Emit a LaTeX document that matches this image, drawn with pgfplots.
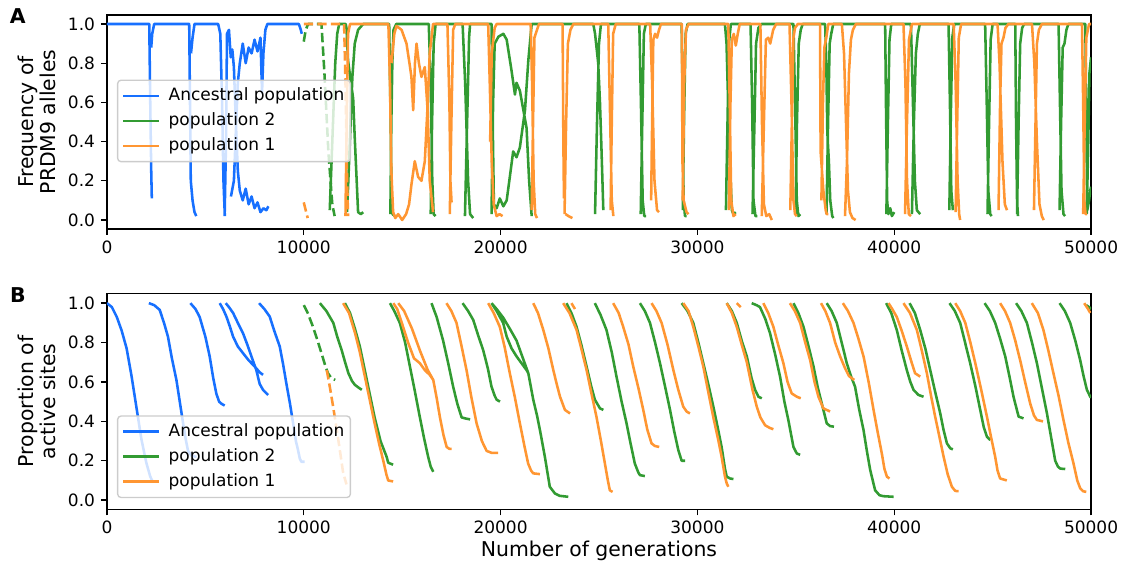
\documentclass[border=0pt]{standalone}
\usepackage{fontspec}
\setmainfont{DejaVu Sans}
\usepackage{pgfplots}
\pgfplotsset{compat=1.18}
\definecolor{cblue}{RGB}{23,112,255}
\definecolor{cgreen}{RGB}{50,155,50}
\definecolor{corange}{RGB}{255,150,50}
\pgfplotsset{
  panel/.style={
    scale only axis, width=578.8pt,
    xmin=0, xmax=50000,
    xtick={0,10000,20000,30000,40000,50000},
    ytick={0,0.2,0.4,0.6,0.8,1},
    tickpos=left, tick align=outside, major tick length=3.5pt,
    every tick/.style={black, line width=0.8pt},
    axis line style={line width=0.8pt},
    ticklabel style={font=\fontsize{10}{12}\selectfont},
    /pgf/number format/assume math mode=true,
    scaled x ticks=false,
    xticklabel style={/pgf/number format/1000 sep={}},
    yticklabel style={/pgf/number format/.cd, fixed, fixed zerofill, precision=1},
    unbounded coords=jump,
    every axis plot/.append style={line width=1.5pt, no markers, line join=round},
    legend image code/.code={\draw[#1, line width=1.5pt] (0pt,0pt) -- (21pt,0pt);},
    legend style={draw=black!20, line width=0.8pt, rounded corners=2pt, fill=white, fill opacity=0.8, text opacity=1, draw opacity=1,
      font=\fontsize{10}{12}\selectfont, inner xsep=2.5pt, inner ysep=3.4pt, row sep=3pt, column sep=4pt,
      nodes={inner sep=1pt, text height=7.5pt, text depth=2.2pt}},
    legend cell align=left,
    ylabel style={font=\fontsize{12}{13.5}\selectfont, align=center, at={(axis description cs:-0.0712,0.5)}, anchor=center},
  },
  dashedline/.style={dash pattern=on 5.55pt off 2.4pt},
}
\begin{document}
\begin{tikzpicture}
\path[use as bounding box] (-62.9pt,8.8pt) rectangle (597.6pt,-324.1pt);
% ---------------- Panel A ----------------
\begin{axis}[panel, at={(0pt,0pt)}, anchor=north west, height=125.9pt,
  ymin=-0.046, ymax=1.046,
  ylabel={Frequency of\\PRDM9 alleles},
  legend style={at={(axis description cs:0.0102,0.505)}, anchor=west}]
\addlegendimage{cblue}\addlegendentry{Ancestral population}
\addlegendimage{cgreen}\addlegendentry{population 2}
\addlegendimage{corange}\addlegendentry{population 1}
% ancestral
\addplot[cblue, forget plot] coordinates {
(0,1) (2150,1) (2200,0.6) (2250,0.25) (2280,0.11) (0,nan)
(2250,0.88) (2300,0.95) (2400,1) (4180,1) (4220,0.6) (4260,0.2) (4350,0.1) (4450,0.04) (4540,0.02) (0,nan)
(4270,0.85) (4350,0.93) (4450,1) (5650,1) (5760,0.95) (5850,0.6) (5920,0.2) (5990,0.02) (0,nan)
(5980,0.02) (6050,0.4) (6100,0.95) (6200,0.97) (6290,0.83) (6370,0.87) (6450,0.78) (6550,0.5) (6650,0.25) (6750,0.15) (6900,0.1) (7050,0.16) (7200,0.08) (7350,0.12) (7500,0.06) (7650,0.09) (7800,0.04) (7950,0.06) (8100,0.05) (8200,0.07) (0,nan)
(6300,0.12) (6450,0.2) (6550,0.45) (6650,0.7) (6750,0.8) (6900,0.9) (7050,0.8) (7200,0.88) (7350,0.85) (7500,0.92) (7650,0.86) (7800,0.93) (7880,0.65) (7950,0.85) (8050,0.97) (8150,1) (9750,1) (9850,0.97) (9900,0.95)
};
% population 2 (green)
\addplot[cgreen, dashedline, forget plot] coordinates {
(10000,0.91) (10100,0.97) (10220,1) (10900,1) (11050,0.75) (11250,0.35) (11450,0.08) (11570,0.02)
};
\addplot[cgreen, forget plot] coordinates {
(11320,0.05) (11450,0.4) (11600,0.8) (11700,0.95) (11800,1) (12130,1) (12170,0.98) (12250,0.815) (12370,0.72) (12510,0.62) (12590,0.42) (12680,0.22) (12760,0.04) (12900,0.03) (13020,0.04) (0,nan)
(12200,0.04) (12340,0.39) (12470,0.73) (12590,0.9) (12760,0.97) (13020,1) (14340,1) (14400,0.6) (14460,0.15) (14510,0.03) (14630,0.02) (0,nan)
(14400,0.03) (14450,0.5) (14500,0.8) (14560,0.97) (14700,1) (16350,1) (16450,0.7) (16530,0.2) (16600,0.03) (16700,0.02) (0,nan)
(16450,0.03) (16520,0.5) (16600,0.9) (16700,1) (18070,1) (18200,0.7) (18350,0.2) (18450,0.03) (18610,0.01) (0,nan)
(18190,0.02) (18300,0.5) (18400,0.93) (18450,1) (19540,1) (19600,0.5) (19660,0.08) (19800,0.06) (19960,0.11) (20140,0.07) (20310,0.1) (20470,0.22) (20640,0.35) (20810,0.32) (20980,0.37) (21240,0.56) (21410,0.815) (21580,1) (24710,1) (24800,0.95) (24960,0.8) (25050,0.6) (25130,0.35) (25220,0.05) (0,nan)
(19540,0.03) (19620,0.6) (19700,0.9) (19890,0.935) (20140,0.95) (20310,0.92) (20560,0.76) (20730,0.64) (20810,0.7) (20980,0.66) (21320,0.47) (21450,0.2) (21580,0.02) (0,nan)
(24800,0.03) (24900,0.5) (25000,0.9) (25100,1) (27050,1) (27130,0.6) (27220,0.1) (27300,0.02) (27400,0.02) (0,nan)
(27120,0.03) (27200,0.5) (27280,0.95) (27380,1) (29200,1) (29250,0.6) (29300,0.1) (29370,0.02) (29450,0.02) (0,nan)
(29260,0.05) (29320,0.5) (29400,0.95) (29500,1) (31400,1) (31480,0.9) (31560,0.6) (31650,0.3) (31750,0.05) (31830,0.03) (31950,0.04) (0,nan)
(31450,0.05) (31530,0.5) (31600,0.9) (31700,1) (32700,1) (32780,0.6) (32850,0.1) (32950,0.02) (33050,0.02) (0,nan)
(32800,0.03) (32900,0.5) (32980,0.9) (33100,0.98) (33250,1) (34880,1) (34960,0.6) (35050,0.1) (35130,0.02) (35230,0.03) (0,nan)
(34990,0.03) (35060,0.5) (35150,0.9) (35250,0.97) (35350,1) (36490,1) (36550,0.8) (36600,0.45) (36680,0.3) (36750,0.1) (36850,0.02) (36910,0.01) (0,nan)
(36560,0.03) (36640,0.5) (36720,0.9) (36800,0.95) (36900,1) (39540,1) (39580,0.6) (39640,0.1) (39700,0.03) (39800,0.06) (39880,0.02) (40000,0.04) (0,nan)
(39600,0.03) (39680,0.5) (39760,0.92) (39850,1) (40850,1) (40950,0.6) (41050,0.2) (41150,0.05) (41320,0.03) (0,nan)
(40900,0.03) (41000,0.5) (41100,0.85) (41200,0.95) (41300,1) (42760,1) (42830,0.6) (42900,0.15) (42980,0.05) (0,nan)
(42800,0.05) (42870,0.5) (42950,0.93) (43050,1) (44620,1) (44700,0.6) (44780,0.15) (44880,0.03) (44950,0.02) (0,nan)
(44740,0.03) (44820,0.5) (44900,0.92) (45000,1) (46150,1) (46190,0.5) (46240,0.1) (46290,0.02) (0,nan)
(46240,0.03) (46320,0.5) (46400,0.9) (46500,0.98) (46600,1) (48350,1) (48420,0.6) (48500,0.15) (48600,0.03) (48680,0.02) (0,nan)
(48400,0.05) (48480,0.5) (48560,0.88) (48650,0.9) (48750,0.97) (48850,1) (49710,1) (49760,0.5) (49810,0.05) (49900,0.1) (49960,0.15) (50000,0.17) (0,nan)
(49780,0.03) (49850,0.35) (49920,0.75) (50000,0.83)
};
% population 1 (orange)
\addplot[corange, dashedline, forget plot] coordinates {
(10000,1) (12050,1) (12120,0.7) (12180,0.3) (12250,0.02) (0,nan)
(10000,0.09) (10100,0.05) (10200,0.01)
};
\addplot[corange, forget plot] coordinates {
(12120,0.02) (12180,0.5) (12250,0.95) (12350,1) (14300,1) (14380,0.7) (14450,0.25) (14540,0.04) (14650,0.01) (14800,0.03) (15000,0.0) (15200,0.03) (15350,0.08) (15470,0.18) (15640,0.3) (15810,0.22) (15980,0.2) (16150,0.3) (16300,0.6) (16400,0.85) (16570,1) (17300,1) (17400,0.6) (17450,0.2) (17510,0.09) (0,nan)
(14460,0.8) (14600,0.95) (14710,0.99) (14970,0.97) (15220,0.9) (15400,0.78) (15470,0.73) (15560,0.56) (15650,0.8) (15730,0.9) (15850,0.8) (15980,0.73) (16150,0.78) (16300,0.55) (16400,0.2) (16570,0.04) (0,nan)
(17420,0.03) (17500,0.5) (17590,0.97) (17700,1) (19370,1) (19450,0.7) (19550,0.3) (19650,0.08) (19800,0.02) (19950,0.03) (20100,0.02) (0,nan)
(19470,0.4) (19550,0.85) (19700,0.98) (19800,1) (21530,1) (21600,0.7) (21680,0.2) (21760,0.03) (21850,0.01) (0,nan)
(21580,0.05) (21650,0.5) (21720,0.93) (21850,0.97) (21950,1) (23150,1) (23190,0.4) (23220,0.11) (0,nan)
(23300,0.03) (23450,0.02) (23650,0.01) (0,nan)
(23250,0.03) (23330,0.5) (23420,0.9) (23550,0.97) (23700,1) (25470,1) (25550,0.6) (25650,0.1) (25730,0.02) (0,nan)
(25590,0.05) (25650,0.5) (25720,0.95) (25850,1) (27600,1) (27700,0.7) (27820,0.2) (27950,0.05) (28050,0.04) (0,nan)
(27650,0.1) (27700,0.5) (27760,0.92) (27850,0.95) (27950,0.93) (28050,0.97) (28150,1) (29210,1) (29240,0.3) (29300,0.1) (29450,0.04) (29550,0.03) (0,nan)
(29250,0.1) (29330,0.7) (29420,0.97) (29550,1) (31570,1) (31640,0.6) (31720,0.1) (31830,0.02) (31950,0.03) (0,nan)
(31600,0.05) (31680,0.6) (31750,0.92) (31850,0.95) (31950,0.89) (32050,0.95) (32150,1) (33200,1) (33280,0.5) (33380,0.08) (33500,0.02) (33650,0.03) (33780,0.0) (0,nan)
(33270,0.02) (33380,0.5) (33480,0.92) (33600,0.93) (33700,0.9) (33850,0.97) (34000,1) (34680,1) (34780,0.6) (34880,0.1) (34960,0.03) (35050,0.02) (0,nan)
(34720,0.05) (34800,0.5) (34880,0.93) (34960,0.98) (35100,1) (36230,1) (36260,0.35) (36400,0.15) (36520,0.05) (36570,0.03) (36660,0.03) (0,nan)
(36300,0.1) (36380,0.6) (36450,0.88) (36550,0.93) (36650,1) (37340,1) (37450,0.85) (37550,0.5) (37650,0.15) (37750,0.04) (37880,0.01) (38040,0.0) (0,nan)
(37500,0.02) (37600,0.3) (37700,0.75) (37800,0.92) (37900,0.97) (38050,1) (40470,1) (40570,0.7) (40650,0.2) (40740,0.03) (40850,0.02) (0,nan)
(40550,0.03) (40650,0.5) (40750,0.92) (40900,1) (43020,1) (43120,0.7) (43220,0.2) (43300,0.03) (43350,0.0) (0,nan)
(43120,0.04) (43200,0.5) (43280,0.93) (43400,1) (45250,1) (45350,0.8) (45500,0.3) (45620,0.08) (45730,0.05) (0,nan)
(45300,0.05) (45380,0.6) (45450,0.9) (45550,0.93) (45650,0.98) (45800,1) (47000,1) (47120,0.8) (47250,0.4) (47380,0.08) (47500,0.02) (47600,0.0) (0,nan)
(47100,0.05) (47180,0.5) (47250,0.9) (47350,0.97) (47500,1) (49540,1) (49600,0.6) (49660,0.1) (49720,0.03) (49800,0.03) (0,nan)
(49600,0.03) (49680,0.5) (49760,0.93) (49900,1) (50000,1)
};
\end{axis}
% ---------------- Panel B ----------------
\begin{axis}[panel, at={(0pt,-163.7pt)}, anchor=north west, height=127.1pt,
  ymin=-0.047, ymax=1.05,
  ylabel={Proportion of\\active sites},
  xlabel={Number of generations},
  xlabel style={font=\fontsize{12}{14}\selectfont, at={(axis description cs:0.5,0)}, anchor=center, yshift=-24.5pt},
  legend style={at={(axis description cs:0.0102,0.052)}, anchor=south west}]
\addlegendimage{cblue}\addlegendentry{Ancestral population}
\addlegendimage{cgreen}\addlegendentry{population 2}
\addlegendimage{corange}\addlegendentry{population 1}
\addplot[cblue, forget plot] coordinates {
(0,1) (250,0.98) (500,0.93) (750,0.86) (1000,0.77) (1250,0.63) (1500,0.47) (1750,0.31) (2000,0.19) (2200,0.12) (2340,0.09) (0,nan)
(2130,1) (2400,0.99) (2680,0.966) (2900,0.9) (3100,0.83) (3300,0.72) (3530,0.61) (3700,0.5) (3870,0.39) (4000,0.31) (4120,0.25) (4300,0.225) (4550,0.22) (0,nan)
(4240,1) (4500,0.97) (4710,0.93) (5000,0.83) (5220,0.73) (5400,0.62) (5560,0.54) (5700,0.5) (5810,0.49) (5980,0.48) (0,nan)
(5730,1) (5900,0.97) (6070,0.932) (6250,0.88) (6410,0.83) (6650,0.78) (6915,0.746) (7200,0.71) (7510,0.678) (7750,0.65) (7930,0.636) (0,nan)
(6035,1) (6200,0.98) (6410,0.95) (6650,0.9) (6915,0.847) (7130,0.79) (7340,0.73) (7590,0.66) (7760,0.59) (7930,0.56) (8080,0.545) (8190,0.534) (0,nan)
(7730,1) (8000,0.97) (8270,0.932) (8500,0.86) (8780,0.78) (8950,0.69) (9120,0.59) (9300,0.49) (9460,0.39) (9600,0.3) (9710,0.254) (9800,0.21) (9880,0.195) (10050,0.195)
};
\addplot[cgreen, dashedline, forget plot] coordinates {
(10000,0.99) (10200,0.95) (10470,0.88) (10700,0.81) (10900,0.746) (11100,0.68) (11230,0.644) (11400,0.62) (11600,0.61)
};
\addplot[cgreen, forget plot] coordinates {
(10820,1) (11150,0.96) (11500,0.9) (11700,0.83) (11930,0.76) (12100,0.7) (12270,0.644) (12450,0.605) (12600,0.585) (12800,0.57) (12950,0.56) (0,nan)
(12090,1) (12350,0.95) (12600,0.87) (12850,0.78) (13100,0.66) (13350,0.54) (13600,0.42) (13900,0.3) (14210,0.22) (14290,0.19) (14540,0.18) (0,nan)
(14380,1) (14600,0.96) (14880,0.9) (15150,0.8) (15390,0.68) (15650,0.55) (15900,0.42) (16100,0.32) (16320,0.22) (16450,0.17) (16580,0.144) (0,nan)
(16490,1) (16750,0.93) (17080,0.81) (17350,0.69) (17590,0.576) (17800,0.49) (18020,0.42) (18200,0.415) (18450,0.41) (0,nan)
(18070,1) (18350,0.96) (18610,0.915) (18850,0.84) (19120,0.76) (19350,0.67) (19540,0.576) (19700,0.53) (19800,0.51) (19970,0.5) (0,nan)
(19540,1) (19800,0.97) (20130,0.927) (20470,0.87) (20810,0.81) (21100,0.73) (21410,0.644) (0,nan)
(19540,1) (19800,0.96) (20130,0.9) (20310,0.83) (20560,0.77) (20810,0.73) (21100,0.69) (21320,0.66) (21410,0.644) (21660,0.51) (21850,0.43) (22000,0.356) (22250,0.22) (22500,0.068) (22760,0.034) (23000,0.022) (23440,0.017) (0,nan)
(23350,1) (23600,0.95) (23860,0.88) (24100,0.79) (24370,0.678) (24600,0.58) (24790,0.51) (25050,0.466) (25220,0.458) (0,nan)
(24790,1) (25080,0.94) (25380,0.864) (25650,0.75) (25890,0.627) (26150,0.5) (26400,0.39) (26600,0.29) (26820,0.186) (27000,0.14) (27080,0.127) (27330,0.122) (0,nan)
(27080,1) (27330,0.96) (27590,0.9) (27850,0.8) (28100,0.695) (28350,0.58) (28610,0.458) (28820,0.35) (29030,0.254) (29200,0.2) (29370,0.2) (0,nan)
(29200,1) (29500,0.96) (29790,0.9) (30050,0.8) (30300,0.695) (30550,0.59) (30810,0.475) (31050,0.36) (31230,0.27) (31400,0.16) (31490,0.119) (31660,0.11) (31830,0.107) (0,nan)
(31490,1) (31750,0.96) (32000,0.9) (32250,0.81) (32510,0.73) (32750,0.62) (32930,0.56) (33100,0.525) (33270,0.517) (0,nan)
(32760,1) (33000,0.99) (33180,0.98) (33450,0.92) (33690,0.847) (33950,0.74) (34200,0.627) (34420,0.5) (34620,0.407) (34880,0.27) (35050,0.237) (35220,0.23) (0,nan)
(34880,1) (35130,0.95) (35390,0.88) (35650,0.78) (35900,0.678) (36120,0.57) (36320,0.49) (36570,0.39) (36740,0.376) (36940,0.373) (0,nan)
(36570,1) (36820,0.96) (37080,0.9) (37330,0.8) (37590,0.695) (37800,0.63) (38010,0.576) (38220,0.46) (38440,0.356) (38610,0.25) (38780,0.153) (39030,0.05) (39250,0.025) (39460,0.02) (39970,0.017) (0,nan)
(39590,1) (39850,0.95) (40130,0.864) (40380,0.76) (40640,0.66) (40820,0.6) (40980,0.56) (41230,0.534) (41490,0.525) (0,nan)
(40780,1) (41050,0.95) (41320,0.864) (41580,0.77) (41830,0.66) (42080,0.55) (42340,0.44) (42500,0.36) (42680,0.288) (42850,0.263) (42980,0.258) (0,nan)
(42810,1) (43080,0.96) (43350,0.9) (43600,0.8) (43860,0.695) (44120,0.58) (44370,0.458) (44550,0.37) (44710,0.322) (44880,0.305) (0,nan)
(44590,1) (44860,0.96) (45130,0.9) (45380,0.82) (45640,0.73) (45850,0.63) (46060,0.525) (46320,0.424) (46570,0.415) (0,nan)
(46190,1) (46460,0.96) (46740,0.9) (47000,0.8) (47250,0.695) (47500,0.57) (47760,0.44) (47970,0.32) (48180,0.2) (48320,0.17) (48440,0.16) (48690,0.158) (0,nan)
(48400,1) (48670,0.96) (48940,0.9) (49200,0.81) (49450,0.71) (49620,0.63) (49790,0.56) (49960,0.525) (50000,0.52) (0,nan)
(49750,0.99) (49900,0.98) (50000,0.97)
};
\addplot[corange, dashedline, forget plot] coordinates {
(11170,0.66) (11350,0.56) (11500,0.47) (11750,0.31) (12000,0.14) (12170,0.08)
};
\addplot[corange, forget plot] coordinates {
(12000,1) (12300,0.95) (12600,0.85) (12850,0.75) (13100,0.63) (13350,0.51) (13600,0.39) (13820,0.29) (14040,0.2) (14200,0.13) (14290,0.1) (14540,0.095) (0,nan)
(14550,1) (14750,0.97) (14950,0.91) (15300,0.8) (15600,0.72) (15900,0.695) (16150,0.66) (16400,0.636) (16580,0.61) (0,nan)
(14800,1) (15100,0.96) (15500,0.87) (15900,0.76) (16300,0.66) (16580,0.61) (16750,0.52) (16920,0.42) (17100,0.33) (17260,0.27) (17400,0.26) (17510,0.26) (0,nan)
(17250,1) (17500,0.96) (17760,0.9) (18000,0.79) (18270,0.66) (18520,0.52) (18780,0.39) (19050,0.3) (19290,0.25) (19550,0.24) (19880,0.24) (0,nan)
(19370,1) (19650,0.95) (19960,0.88) (20200,0.78) (20470,0.644) (20730,0.52) (20980,0.39) (21200,0.28) (21400,0.186) (21550,0.15) (21660,0.136) (22000,0.132) (0,nan)
(21660,1) (21900,0.95) (22170,0.864) (22430,0.77) (22680,0.66) (22850,0.59) (23020,0.525) (23270,0.458) (23530,0.44) (0,nan)
(23180,1) (23500,0.95) (23860,0.864) (24100,0.77) (24370,0.66) (24620,0.54) (24870,0.424) (25100,0.3) (25300,0.186) (25450,0.1) (25550,0.05) (25690,0.042) (0,nan)
(23600,1) (23780,0.97) (0,nan)
(25720,1) (26000,0.95) (26230,0.88) (26500,0.79) (26740,0.678) (27000,0.57) (27250,0.458) (27450,0.36) (27670,0.288) (27840,0.275) (28060,0.27) (0,nan)
(27670,1) (27920,0.96) (28180,0.9) (28480,0.79) (28780,0.66) (29030,0.56) (29280,0.475) (29450,0.45) (29620,0.44) (0,nan)
(29280,1) (29550,0.96) (29790,0.88) (30050,0.78) (30300,0.678) (30550,0.55) (30810,0.42) (31050,0.31) (31230,0.22) (31400,0.12) (31490,0.085) (31570,0.068) (0,nan)
(31490,1) (31750,0.95) (32000,0.88) (32250,0.79) (32510,0.7) (32800,0.56) (33015,0.475) (33200,0.42) (33440,0.38) (33690,0.366) (33860,0.36) (0,nan)
(32000,1) (32200,0.98) (0,nan)
(33350,1) (33600,0.95) (33860,0.88) (34100,0.79) (34370,0.695) (34580,0.6) (34790,0.542) (35050,0.525) (35250,0.517) (0,nan)
(34700,1) (34950,0.96) (35220,0.9) (35480,0.8) (35730,0.71) (35950,0.6) (36150,0.525) (36400,0.466) (36740,0.45) (0,nan)
(36280,1) (36500,0.96) (36740,0.9) (37000,0.8) (37250,0.73) (37500,0.67) (37700,0.63) (37970,0.61) (0,nan)
(37390,1) (37650,0.96) (37930,0.9) (38180,0.82) (38440,0.73) (38700,0.6) (38950,0.458) (39150,0.35) (39370,0.237) (39500,0.16) (39630,0.119) (39760,0.11) (0,nan)
(39710,1) (39900,0.97) (40130,0.93) (40380,0.86) (40640,0.78) (40850,0.71) (41060,0.644) (41320,0.627) (0,nan)
(40470,1) (40800,0.95) (41150,0.864) (41400,0.76) (41660,0.644) (41870,0.53) (42080,0.424) (42300,0.32) (42510,0.22) (42720,0.13) (42930,0.068) (43100,0.047) (43270,0.045) (0,nan)
(43100,1) (43350,0.96) (43610,0.9) (43870,0.8) (44120,0.695) (44420,0.56) (44710,0.424) (44920,0.32) (45130,0.22) (45250,0.15) (45380,0.11) (45720,0.1) (0,nan)
(45380,1) (45630,0.96) (45890,0.9) (46150,0.81) (46400,0.71) (46650,0.6) (46910,0.49) (47100,0.43) (47250,0.407) (47560,0.4) (0,nan)
(46990,1) (47300,0.95) (47580,0.864) (47830,0.76) (48090,0.644) (48350,0.53) (48600,0.407) (48850,0.29) (49110,0.186) (49300,0.1) (49450,0.06) (49600,0.045) (49760,0.042) (0,nan)
(49650,1) (49850,0.97) (49960,0.95)
};
\end{axis}
\node[font=\bfseries\fontsize{12}{14}\selectfont] at (-52.4pt,-0.9pt) {A};
\node[font=\bfseries\fontsize{12}{14}\selectfont] at (-52.4pt,-164.7pt) {B};
\end{tikzpicture}
\end{document}
